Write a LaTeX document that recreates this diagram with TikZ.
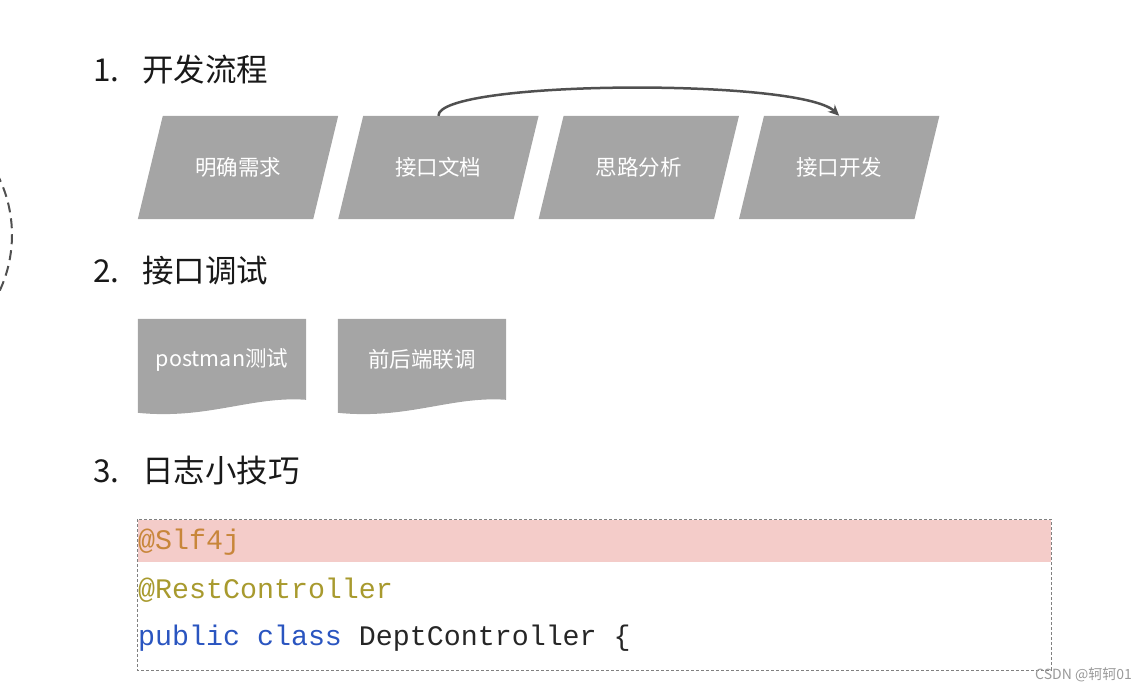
\documentclass[tikz,border=0pt]{standalone}
\usepackage{fontspec}
\setmainfont{Noto Sans CJK SC}
\setmonofont{Liberation Mono}
\usetikzlibrary{positioning, backgrounds, arrows.meta}
\definecolor{boxgray}{HTML}{A5A5A5}
\definecolor{arcgray}{HTML}{505050}
\definecolor{hlpink}{HTML}{F4CCC9}
\definecolor{annocol}{HTML}{C8863A}
\definecolor{restcol}{HTML}{A89A2E}
\definecolor{kwblue}{HTML}{2A55C0}
\tikzset{
        x=1pt, y=-1pt, % one unit = one pixel of the slide
        heading/.style={anchor=west, inner sep=0pt, text=black!90, font=\fontsize{31.5}{36}\selectfont},
        flowbox/.style={minimum width=200pt, minimum height=103pt, inner sep=0pt,
            text=white, font=\fontsize{21.5}{25}\selectfont},
        docbox/.style={minimum width=168pt, minimum height=81pt, inner sep=0pt,
            text=white, font=\fontsize{21.5}{25}\selectfont},
        codeline/.style={anchor=base west, inner sep=0pt, font=\ttfamily\fontsize{28.3}{32}\selectfont},
    }
\tikzstyle{shade}=[fill=boxgray]

\begin{document}
\begin{tikzpicture}
    \useasboundingbox (0,0) rectangle (1147,691);

    % dashed circle cut by the left edge
    \draw[arcgray, line width=2pt, dash pattern=on 10pt off 6pt] (-120,235) ++(-42:132) arc (-42:42:132);

    % 1. development flow
    \node[heading] (n1) at (93,70) {1.};
    \node[heading] (h1) at (142,70) {开发流程};
    \node[flowbox] (req) at (238,167.5) {明确需求};
    \node[flowbox, right=0pt of req] (doc) {接口文档};
    \node[flowbox, right=0pt of doc] (idea) {思路分析};
    \node[flowbox, right=0pt of idea] (dev) {接口开发};
    \begin{scope}[on background layer]
        \foreach \b in {req, doc, idea, dev} {
            \fill[shade] (\b.south west) -- ([xshift=-25pt]\b.south east) -- (\b.north east)
                -- ([xshift=25pt]\b.north west) -- cycle;
        }
    \end{scope}
    \draw[arcgray, line width=2.5pt, -{Stealth[length=11pt, width=10pt]}]
        (doc.north) .. controls (438,80) and (800,78) .. (dev.north);

    % 2. interface testing
    \node[heading] (n2) at (93,271) {2.};
    \node[heading] (h2) at (142,271) {接口调试};
    \node[docbox] (pm) at (222,359.5) {postman测试};
    \node[docbox] (fe) at (422,359.5) {前后端联调};
    \begin{scope}[on background layer]
        \foreach \d in {pm, fe} {
            \fill[shade] (\d.north west) -- (\d.north east) -- ([yshift=-81pt]\d.north east)
                .. controls ([xshift=-55pt, yshift=-77pt]\d.north east)
                and ([xshift=70pt, yshift=-101pt]\d.north west) .. ([yshift=-94pt]\d.north west) -- cycle;
        }
    \end{scope}

    % 3. logging tip
    \node[heading] (n3) at (93,471) {3.};
    \node[heading] (h3) at (142,471) {日志小技巧};
    \fill[hlpink] (138,520) rectangle (1051,562);
    \node[codeline, text=annocol] (slf) at (138,549) {@Slf4j};
    \node[codeline, text=restcol] (rest) at (138,598) {@RestController};
    \node[codeline, text=kwblue] (pub) at (138,645) {public class \textcolor{black!85}{DeptController \{}};
    \draw[gray, line width=0.8pt, dash pattern=on 3pt off 2pt] (137,519) rectangle (1051,670);

    % watermark
    \node[anchor=east, inner sep=0pt, text=gray!80, font=\fontsize{14}{16}\selectfont] (mark) at (1132,675) {CSDN @轲轲01};
\end{tikzpicture}
\end{document}
